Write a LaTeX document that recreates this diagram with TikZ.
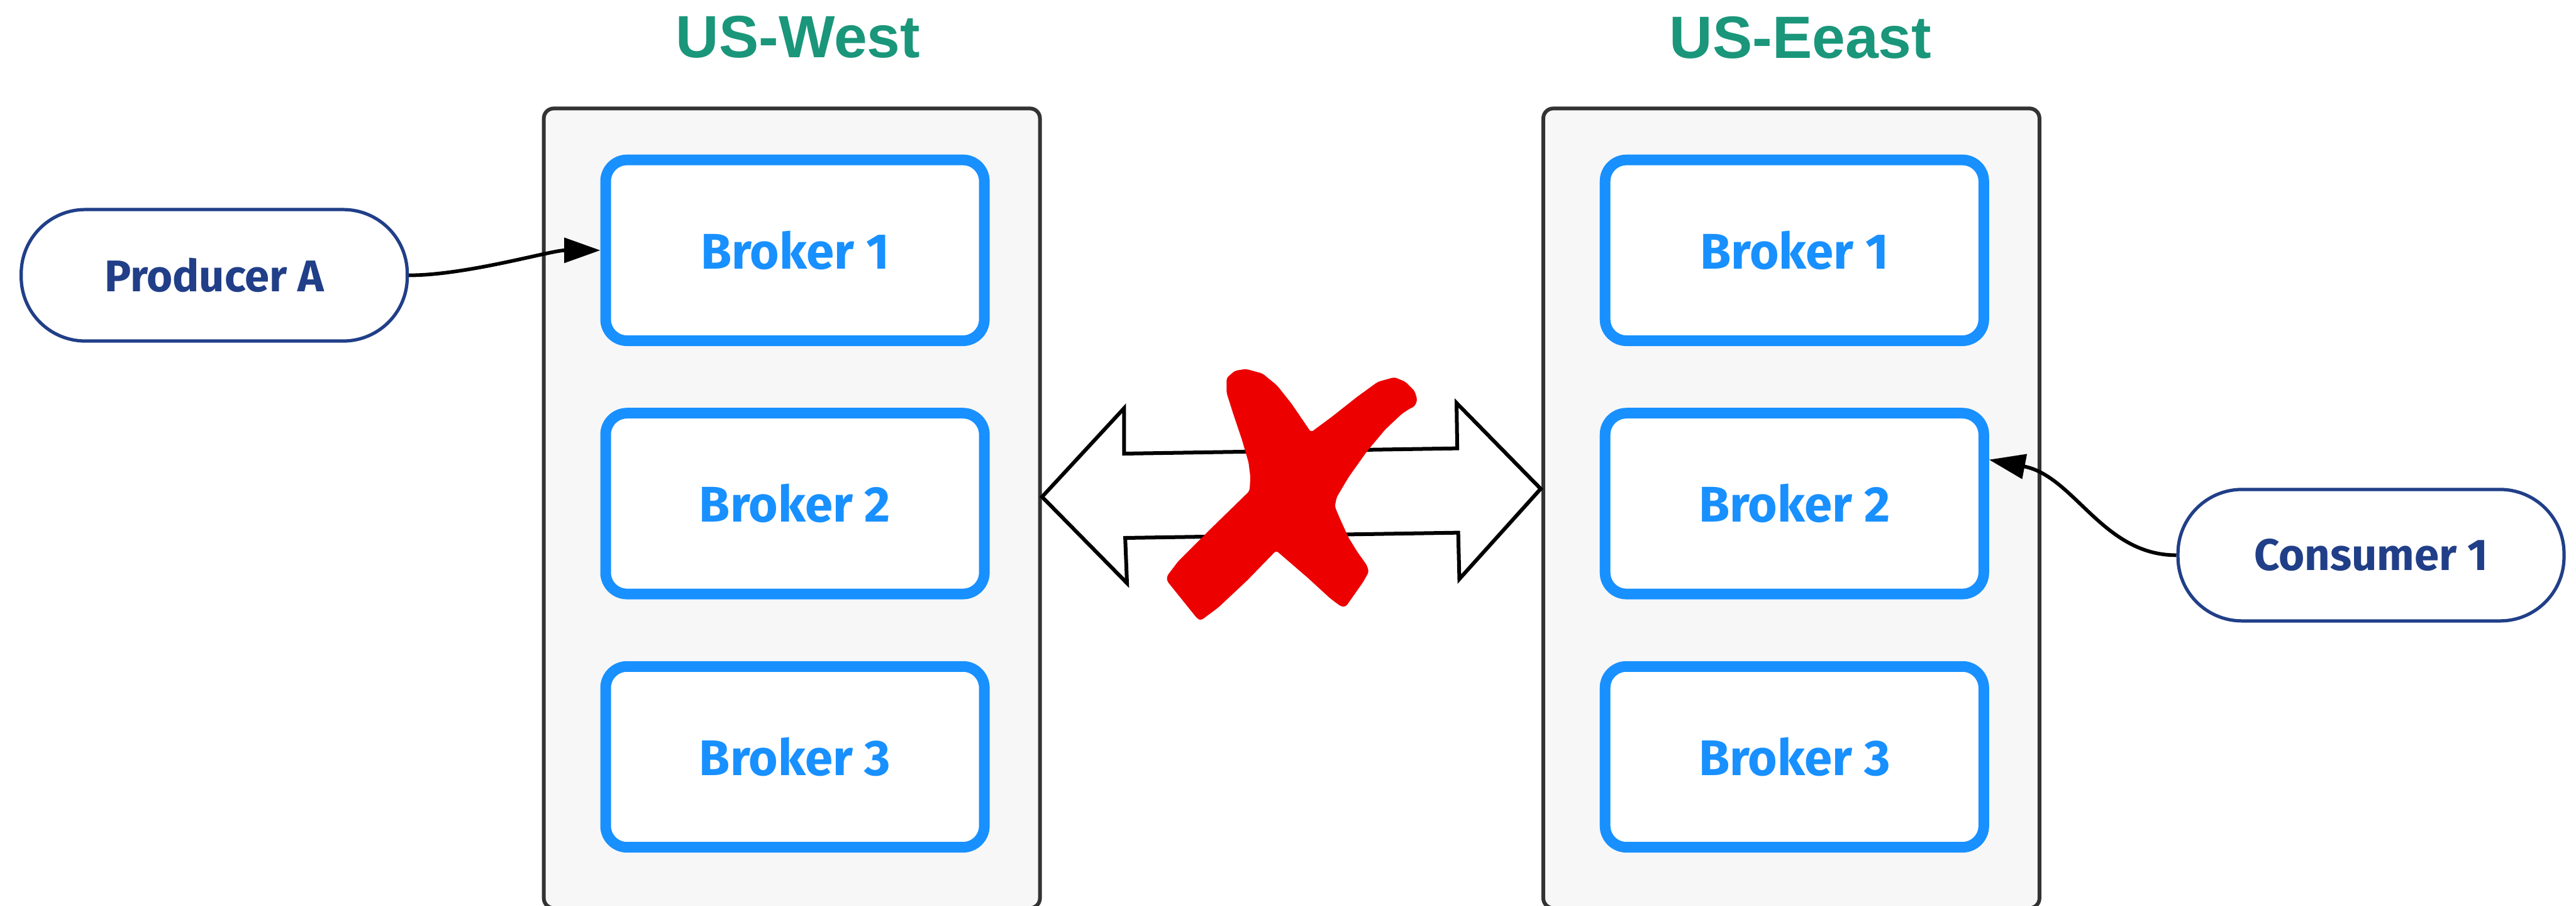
\documentclass[tikz,border=0pt]{standalone}
\usepackage{fontspec}
\setmainfont{Liberation Sans}
\newfontfamily\firasans{Fira Sans}
\newfontfamily\titlefont{Liberation Sans}
\usetikzlibrary{arrows.meta,calc}
\definecolor{tealtitle}{HTML}{1A967A}
\definecolor{brokerblue}{HTML}{1890FF}
\definecolor{navyclient}{HTML}{213F88}
\definecolor{boxgray}{HTML}{F7F7F7}
\definecolor{boxline}{HTML}{333333}
\definecolor{xred}{HTML}{EC0000}
\begin{document}
\begin{tikzpicture}[x=1pt,y=-1pt,
 region/.style={draw=boxline, line width=2.3pt, fill=boxgray, rounded corners=6pt,
   minimum width=302pt, minimum height=486.5pt, inner sep=0pt},
 broker/.style={draw=brokerblue, line width=6.5pt, fill=white, rounded corners=13pt,
   minimum width=230.5pt, minimum height=110pt, inner sep=0pt, text=brokerblue,
   font=\firasans\bfseries\fontsize{30.5}{36}\selectfont},
 client/.style={draw=navyclient, line width=2pt, fill=white, rounded corners=39pt,
   minimum width=235pt, minimum height=80pt, inner sep=0pt, text=navyclient,
   font=\firasans\bfseries\fontsize{27}{32}\selectfont},
 regiontitle/.style={text=tealtitle, font=\titlefont\bfseries\fontsize{36.3}{40}\selectfont,
   anchor=base, inner sep=0pt},
 flow/.style={line width=2.2pt, -{Triangle[length=22pt,width=15pt]}},
]
\useasboundingbox (0,0) rectangle (1568,551.14);

% regions
\node[region] (west) at (482,309.25) {};
\node[region] (east) at (1090.4,309.25) {};
\node[regiontitle] (twest) at (485.8,35.1) {US-West};
\node[regiontitle] (teast) at (1096,35.3) {US-Eeast};

% brokers
\node[broker] (w1) at (483.9,152.3) {Broker 1};
\node[broker] (w2) at (483.9,306.4) {Broker 2};
\node[broker] (w3) at (483.9,460.5) {Broker 3};
\node[broker] (e1) at (1092.25,152.3) {Broker 1};
\node[broker] (e2) at (1092.25,306.4) {Broker 2};
\node[broker] (e3) at (1092.25,460.5) {Broker 3};

% clients
\node[client] (prod) at (130.4,167.5) {Producer A};
\node[client] (cons) at (1443.2,337.8) {Consumer 1};

% connectors
\draw[flow] (prod.east) .. controls ($(prod.east)+(35,0)$) and ($(w1.west)+(-30,0)$) .. (w1.west);
\coordinate (e2in) at ($(e2.east)+(0,-26.7)$);
\draw[flow] (cons.west) .. controls ($(cons.west)+(-45,0)$) and ($(e2in)+(52,10)$) .. (e2in);

% blocked double arrow
\draw[line width=2.3pt, fill=white, line join=miter]
  (634.3,302.3) -- (684.2,248.4) -- (684.2,276.0) -- (887.0,272.8) -- (886.6,245.2)
  -- (937.8,297.4) -- (888.3,352.3) -- (887.6,324.1) -- (684.9,327.3) -- (686.0,354.8) -- cycle;

% red cross
\fill[xred, rounded corners=1.5pt]
  (746.6,230.0) -- (751.6,225.6) -- (758.3,224.5) -- (768.4,227.2) -- (777.3,234.5)
  -- (786.2,245.7) -- (798.0,263.0) -- (810.8,253.5) -- (826.4,241.2) -- (838.7,232.3)
  -- (848.8,229.5) -- (855.5,232.3) -- (861.1,237.9) -- (862.7,243.4) -- (861.1,247.3)
  -- (858.3,248.5) -- (853.3,251.8) -- (843.2,261.3) -- (832.0,274.7) -- (820.9,290.3)
  -- (813.6,302.6) -- (812.5,308.2) -- (815.3,314.9) -- (820.9,327.2) -- (826.4,336.1)
  -- (832.0,343.9) -- (833.2,347.9) -- (829.8,354.0) -- (819.2,369.1) -- (816.4,369.1)
  -- (809.7,364.1) -- (796.3,351.8) -- (776.8,335.0) -- (759.4,352.9) -- (741.6,369.6)
  -- (731.0,377.5) -- (728.7,376.3) -- (710.3,353.4) -- (710.3,350.6) -- (717.0,341.7)
  -- (737.1,321.6) -- (760.6,298.7) -- (761.1,290.3) -- (760.0,281.4) -- (756.1,268.0)
  -- (750.5,251.3) -- (746.6,239.0) -- cycle;
\end{tikzpicture}
\end{document}
